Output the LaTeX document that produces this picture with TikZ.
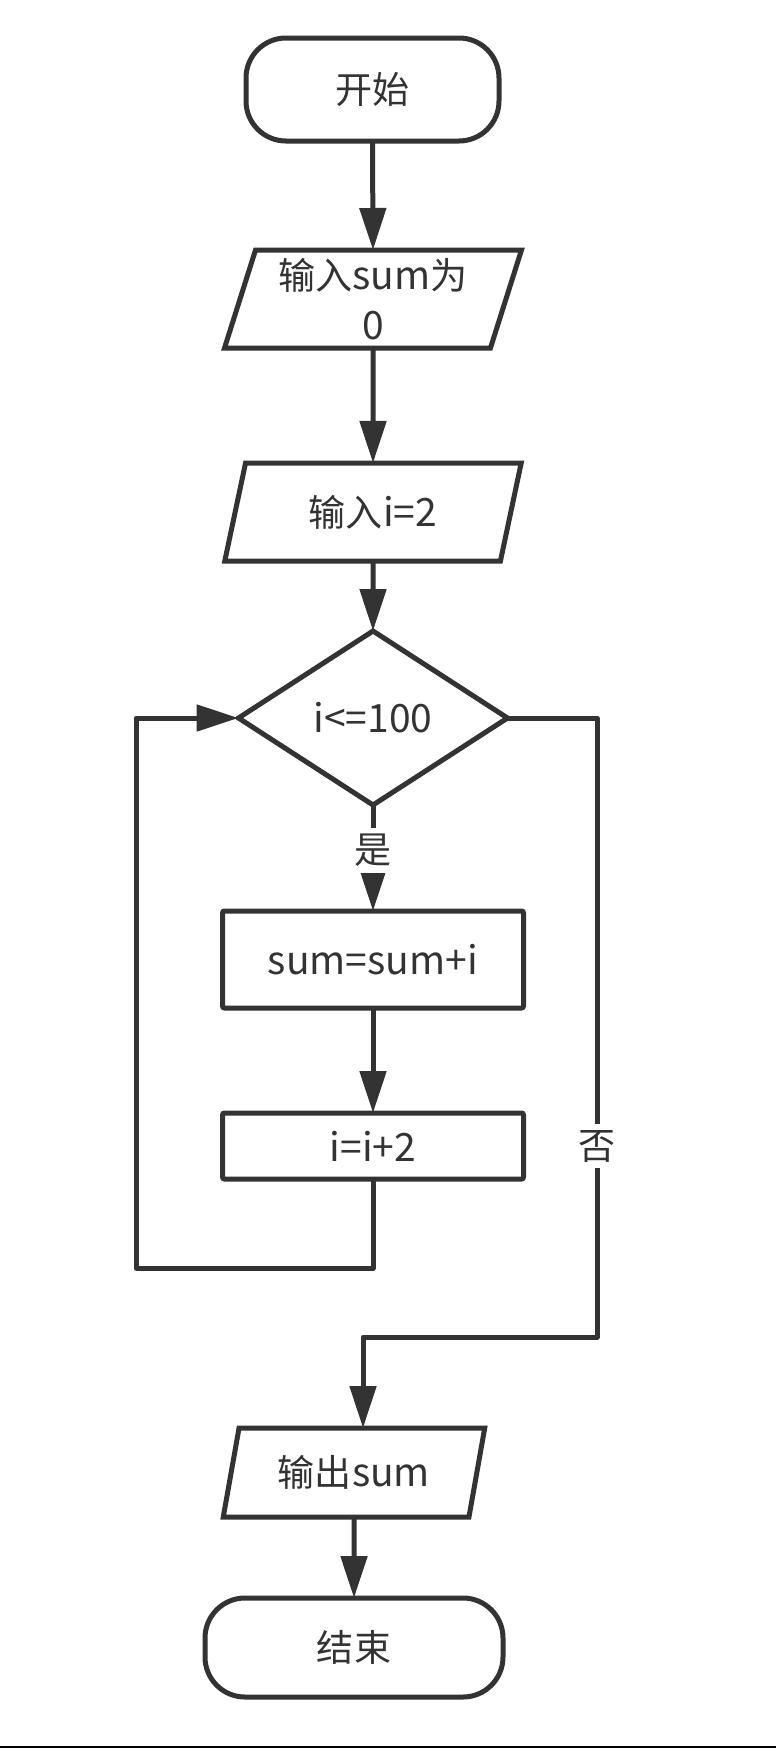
\documentclass[tikz,border=0pt]{standalone}
\usepackage{fontspec}
\setmainfont{Noto Sans CJK SC}
\newfontfamily\zhfont{Noto Sans CJK SC}[Scale=0.95]
\usetikzlibrary{arrows.meta,shapes.geometric}
\definecolor{ink}{HTML}{333333}
\begin{document}
\begin{tikzpicture}[x=1pt,y=-1pt,
  every node/.style={font=\fontsize{39}{46}\selectfont, text=ink},
  base/.style={draw=ink, line width=5pt, inner sep=0pt, outer sep=0pt},
  term/.style={base, rectangle, rounded corners=40pt, minimum width=253pt, minimum height=103pt},
  io/.style={base, trapezium, trapezium left angle=73, trapezium right angle=107,
    trapezium stretches=true, minimum width=297pt, minimum height=98pt, align=center},
  proc/.style={base, rectangle, rounded corners=2pt, minimum width=301pt},
  dec/.style={base, diamond, minimum width=269pt, minimum height=174pt},
  flow/.style={draw=ink, line width=5pt, -{Triangle[length=42pt,width=26pt]}},
  lab/.style={fill=white, inner sep=6pt, text=ink}
]
\fill[white] (0,0) rectangle (776,1748);
\useasboundingbox (0,0) rectangle (776,1748);
\fill[black] (0,1745.5) rectangle (776,1748);

\node[term] (start) at (372.5,89.5) {\zhfont 开始};
\node[io] (in1) at (373,299) {{\zhfont 输入}sum{\zhfont 为}\\[4pt]0};
\node[io] (in2) at (373,512) {{\zhfont 输入}i=2};
\node[dec] (cond) at (373,718) {i<=100};
\node[proc, minimum height=97pt] (p1) at (373,959.5) {sum=sum+i};
\node[proc, minimum height=66pt] (p2) at (373,1146) {i=i+2};
\node[io, minimum width=262pt, minimum height=89pt] (out) at (354,1472.5) {{\zhfont 输出}sum};
\node[term, minimum width=298pt, minimum height=99pt] (end) at (354,1647.5) {\zhfont 结束};

\coordinate (lb) at (136,1268);
\coordinate (nr) at (597,1337);

\draw[flow] (start.south) -- (in1.north);
\draw[flow] (in1.south) -- (in2.north);
\draw[flow] (in2.south) -- (cond.north);
\draw[flow] (cond.south) -- node[lab, pos=0.43] {\zhfont 是} (p1.north);
\draw[flow] (p1.south) -- (p2.north);
\draw[flow, line join=round] (p2.south) |- (lb) |- (cond.west);
\draw[flow, line join=round] (cond.east) -| node[lab, pos=0.846] {\zhfont 否} (nr) -| ([xshift=9pt]out.north);
\draw[flow] (out.south) -- (end.north);
\end{tikzpicture}
\end{document}
